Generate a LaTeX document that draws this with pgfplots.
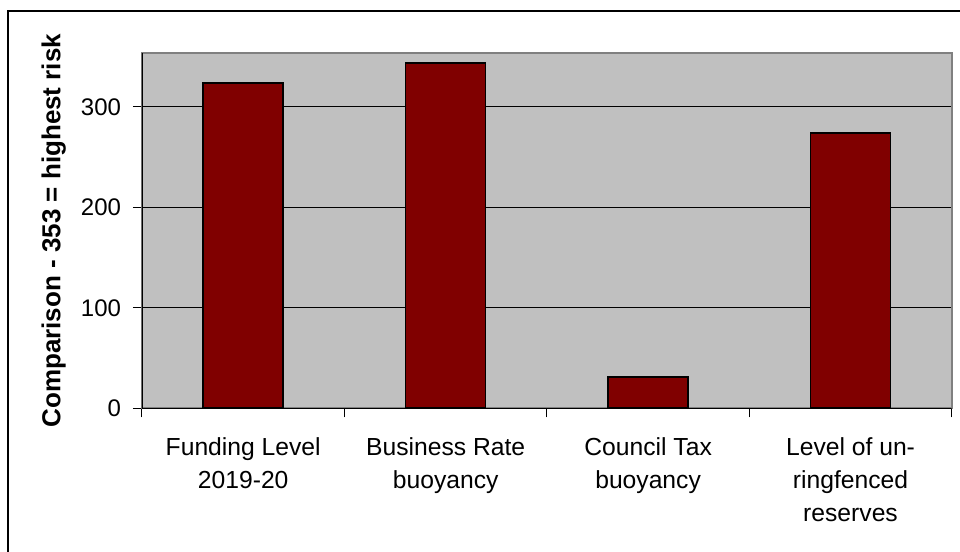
\documentclass[border=0pt]{standalone}
\usepackage{fontspec}
\setmainfont{Liberation Sans}
\usepackage{pgfplots}
\pgfplotsset{compat=1.18}
\definecolor{barred}{HTML}{800000}
\definecolor{plotgray}{HTML}{C0C0C0}
\definecolor{edgegray}{HTML}{808080}
\begin{document}
\begin{tikzpicture}
\useasboundingbox (0,0) rectangle (720pt,414pt);
\draw[line width=1.5pt] (6pt,-5pt) -- (6pt,405.75pt) -- (725pt,405.75pt);
\begin{axis}[
  at={(106.5pt,107.8pt)}, anchor=south west,
  width=607.3pt, height=266.3pt, scale only axis,
  xmin=0, xmax=4, ymin=0, ymax=353.5,
  axis background/.style={fill=plotgray},
  axis line style={draw=edgegray, line width=1.2pt},
  ybar, bar width=60pt,
  xtick pos=bottom, ytick pos=left,
  xtick={0.5,1.5,2.5,3.5},
  xticklabels={{Funding Level\\2019-20},{Business Rate\\buoyancy},{Council Tax\\buoyancy},{Level of un-\\ringfenced\\reserves}},
  x tick label style={align=center, font=\fontsize{18.5}{24.75}\selectfont, anchor=north, yshift=-12pt},
  major x tick style={draw=none},
  minor xtick={0,1,2,3,4},
  ytick={0,100,200,300},
  ymajorgrids, grid style={black, line width=0.75pt},
  tick align=outside, major tick length=6.75pt, minor tick length=6.75pt,
  tick style={black, line width=0.75pt},
  yticklabel style={font=\fontsize{18}{20}\selectfont, xshift=-5.5pt},
  /pgf/number format/assume math mode=true,
  ylabel={Comparison - 353 = highest risk},
  ylabel style={font=\bfseries\fontsize{19.5}{20}\selectfont, at={(axis description cs:-0.1124,0.5)}, anchor=center, yshift=-2pt},
]
\addplot[fill=barred, draw=black, line width=1.2pt] coordinates {(0.5,324) (1.5,344) (2.5,31) (3.5,274)};
\draw[black, line width=0.9pt] (rel axis cs:0,1) -- (rel axis cs:0,0) -- (rel axis cs:1,0);
\end{axis}
\end{tikzpicture}
\end{document}
